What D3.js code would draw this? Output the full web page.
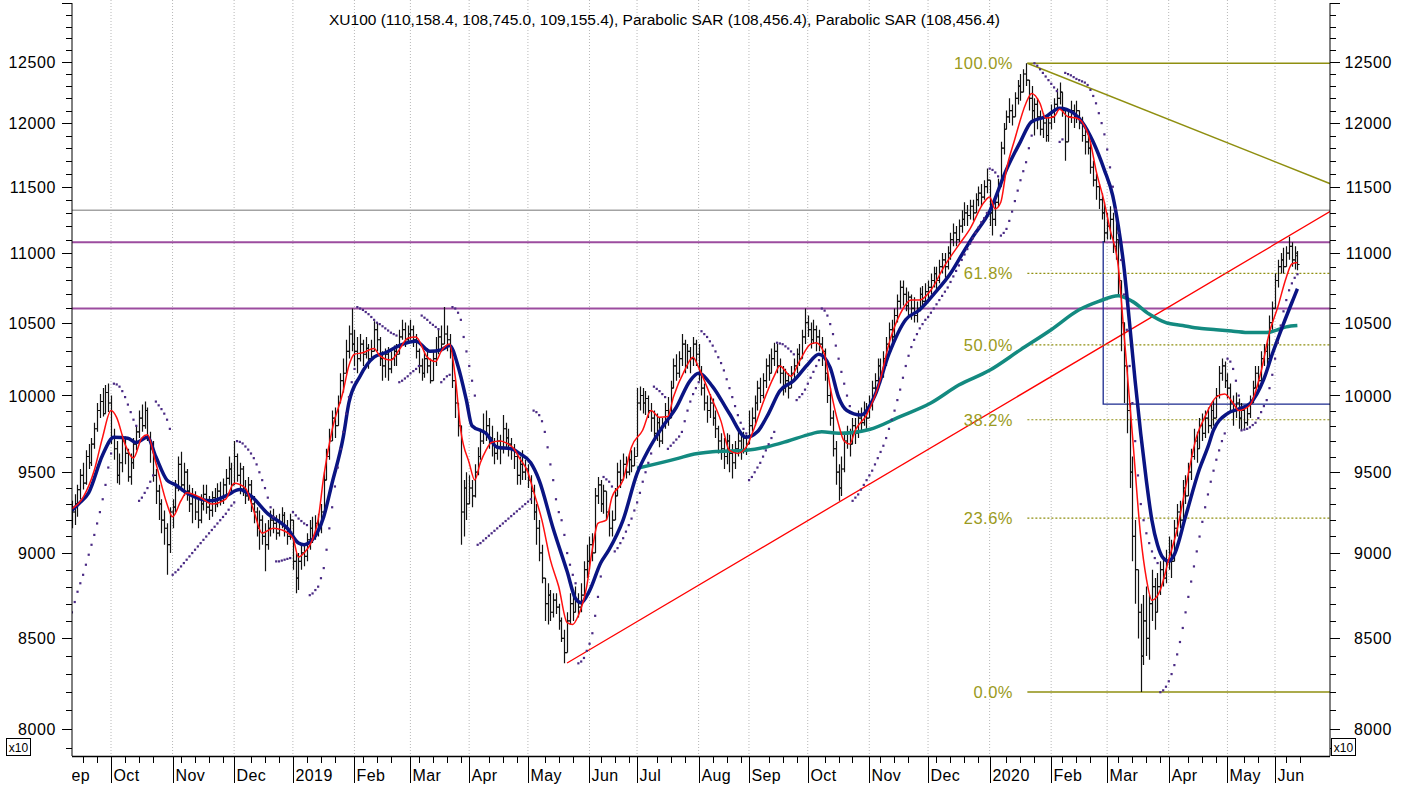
<!DOCTYPE html>
<html>
<head>
<meta charset="utf-8">
<script src="https://cdn.jsdelivr.net/npm/d3@7"></script>
<style>
  body { margin: 0; background: #fff; }
  svg { display: block; font-family: "Liberation Sans", Arial, sans-serif; }
</style>
</head>
<body>
<div id="chart"></div>
<script>
/* CONSTANTS AND GLOBALS */
const width = 1408,
  height = 787,
  plot = { left: 72, right: 1330, top: 0, bottom: 756 };

// bar index = trading days counted from 1 Oct 2018, first bar sits at -14
const firstIndex = -14;

// x axis: month labels and the trading-day index where each month starts
const monthLabels = ["Sep", "Oct", "Nov", "Dec", "2019", "Feb", "Mar", "Apr", "May", "Jun", "Jul", "Aug", "Sep", "Oct", "Nov", "Dec", "2020", "Feb", "Mar", "Apr", "May", "Jun"];
const monthStarts = [-19, 0, 22, 44, 65, 87, 107, 128, 149, 171, 188, 210, 228, 249, 271, 292, 314, 336, 356, 378, 399, 416];

// y axis labels (values shown x10)
const yLabels = [8000, 8500, 9000, 9500, 10000, 10500, 11000, 11500, 12000, 12500];

// XU100 daily bars, one row per month
const opens = [
  9230,9250,9300,9390,9480,9430,9600,9560,9680,9780,9900,9960,9880,10020,
  9950,9720,9650,9480,9560,9700,9620,9470,9560,9680,9760,9850,9800,9900,9720,9650,9480,9380,9300,9200,9150,9050,
  9250,9280,9400,9550,9420,9500,9380,9300,9350,9250,9200,9300,9360,9280,9260,9340,9300,9380,9320,9420,9460,9520,
  9420,9600,9480,9520,9400,9350,9420,9300,9250,9150,9200,9100,9050,9150,9200,9180,9120,9180,9230,9150,9100,
  9200,8950,8850,8950,9000,8980,9080,9150,9100,9180,9160,9250,9450,9600,9700,9850,9800,9950,10100,10150,10300,10420,
  10350,10300,10250,10350,10280,10320,10250,10300,10450,10380,10250,10200,10280,10180,10250,10300,10280,10400,10450,10380,
  10420,10450,10380,10300,10200,10150,10250,10200,10100,10250,10300,10400,10350,10420,10380,10300,10100,9950,9800,9250,9400,
  9300,9400,9350,9500,9600,9700,9750,9800,9720,9680,9620,9700,9650,9780,9720,9680,9640,9600,9480,9550,9500,
  9520,9450,9380,9250,9150,9000,8850,8700,8750,8650,8720,8680,8600,8500,8420,8600,8700,8650,8720,8680,8750,8900,
  8950,9050,9000,9350,9420,9300,9380,9250,9150,9200,9350,9500,9450,9550,9500,9580,9540,
  9600,9950,10000,9950,9980,9900,9850,9750,9820,9700,9800,9900,9850,10050,10200,10150,10250,10350,10200,10300,10250,10350,
  10280,10150,10050,9950,9900,9950,9850,9780,9700,9650,9600,9700,9620,9560,9650,9700,9640,9720,
  9680,9800,9850,9950,10050,10000,10100,10200,10150,10250,10300,10200,10150,10050,10100,10050,10150,10200,10280,10250,10400,
  10500,10450,10380,10450,10400,10350,10300,10150,10000,9850,9650,9500,9400,9520,9700,9750,9680,9800,9750,9850,9820,9900,
  9850,9950,10050,10100,10200,10150,10250,10350,10450,10400,10550,10650,10750,10700,10620,10680,10600,10550,10600,10700,10650,
  10720,10750,10800,10850,10800,10900,10950,10900,11000,11100,11150,11100,11200,11250,11300,11280,11350,11300,11400,11450,11420,11500,
  11550,11300,11250,11380,11500,11800,11950,12050,12100,12050,12200,12300,12250,12400,12350,12200,12100,12150,12050,11950,12000,11900,
  12000,12050,12150,12200,12250,12100,11850,12050,12100,12050,12100,12000,11900,11850,11800,11650,11550,11500,11400,11300,
  11150,11200,11250,11050,11100,10800,10500,10200,9900,9500,9100,8900,8650,8400,8600,8500,8700,8800,8650,8800,8900,8850,
  8950,9000,8950,9150,9250,9200,9400,9350,9500,9600,9700,9650,9800,9750,9850,9800,9900,9850,10000,10150,10200,
  10100,10050,9950,9900,9950,9850,9900,9820,9880,9950,10050,10150,10100,10250,10300,10250,10500,
  10600,10800,10900,10950,10900,11000,11050,10950,10980
];
const highs = [
  9320,9360,9420,9520,9560,9640,9680,9720,9820,9950,10010,10050,10070,10080,
  10000,9780,9700,9620,9740,9730,9650,9620,9720,9800,9900,9940,9960,9920,9760,9700,9520,9420,9330,9260,9180,9280,
  9330,9450,9600,9630,9560,9520,9420,9400,9380,9330,9360,9420,9420,9350,9380,9400,9430,9440,9460,9520,9600,9560,
  9700,9620,9560,9540,9450,9470,9450,9350,9280,9260,9230,9180,9200,9260,9270,9230,9240,9280,9250,9200,9240,
  9200,9000,9000,9050,9060,9120,9200,9220,9230,9240,9300,9500,9650,9780,9900,9920,10000,10150,10250,10380,10480,10600,
  10450,10400,10420,10380,10400,10350,10380,10510,10500,10400,10300,10320,10330,10300,10340,10350,10450,10520,10500,10480,
  10520,10480,10420,10320,10250,10300,10320,10250,10300,10400,10450,10480,10610,10480,10420,10300,10100,9950,9800,9450,9500,
  9480,9450,9550,9660,9780,9880,9900,9850,9800,9720,9760,9740,9870,9820,9780,9720,9680,9620,9600,9640,9580,
  9550,9480,9420,9300,9200,9050,8850,8820,8780,8760,8760,8700,8620,8550,8650,8760,8780,8800,8760,8820,8950,9050,
  9100,9120,9400,9470,9450,9420,9380,9280,9260,9400,9560,9580,9620,9600,9620,9640,9660,
  10050,10060,10050,10030,10000,9950,9900,9880,9850,9850,9950,9990,10100,10250,10280,10300,10420,10380,10350,10330,10400,10380,
  10350,10200,10080,10000,10010,9980,9900,9800,9750,9720,9750,9740,9680,9700,9760,9750,9760,9740,
  9900,9920,10000,10100,10120,10150,10250,10280,10320,10360,10350,10250,10200,10180,10150,10200,10250,10320,10350,10450,10600,
  10550,10500,10520,10480,10450,10400,10320,10150,10050,9900,9700,9550,9600,9760,9800,9780,9850,9850,9900,9920,9960,9950,
  10000,10100,10150,10250,10250,10300,10400,10500,10520,10600,10700,10800,10800,10750,10720,10700,10680,10650,10750,10760,10780,
  10800,10850,10900,10900,10950,11000,11000,11050,11150,11220,11200,11250,11320,11380,11360,11400,11400,11450,11500,11520,11550,11640,
  11550,11380,11420,11560,11850,12000,12100,12200,12150,12250,12350,12400,12440,12490,12350,12300,12200,12200,12100,12080,12050,12050,
  12150,12200,12280,12330,12250,12100,12100,12180,12150,12180,12100,12050,11950,11900,11850,11700,11600,11520,11450,11380,
  11300,11350,11300,11250,11100,10800,10500,10200,9950,9600,9200,8900,8700,8750,8800,8750,8900,8850,8880,8950,8960,9020,
  9100,9080,9200,9300,9320,9450,9480,9560,9650,9780,9760,9850,9880,9900,9920,9950,9970,10050,10200,10250,10230,
  10150,10080,10000,10020,9980,9950,9930,9940,10000,10100,10200,10200,10300,10350,10380,10550,10650,
  10850,10950,11000,11040,11050,11120,11080,11050,11016
];
const lows = [
  9150,9170,9220,9330,9390,9420,9520,9540,9650,9760,9850,9860,9880,9890,
  9680,9580,9430,9420,9500,9550,9440,9420,9520,9640,9720,9760,9780,9700,9560,9440,9300,9200,9120,9050,8870,9000,
  9150,9250,9380,9380,9350,9320,9250,9180,9200,9150,9180,9260,9240,9200,9220,9250,9280,9290,9300,9360,9420,9380,
  9420,9440,9360,9350,9300,9320,9250,9180,9100,9020,9050,8890,9020,9100,9120,9080,9100,9150,9100,9050,9080,
  8900,8760,8780,8900,8920,8950,9020,9060,9080,9100,9120,9250,9450,9580,9700,9720,9800,9950,10020,10150,10250,10300,
  10200,10150,10230,10200,10250,10180,10240,10300,10300,10200,10100,10120,10100,10150,10200,10200,10280,10380,10330,10350,
  10380,10330,10250,10150,10100,10120,10150,10080,10100,10200,10280,10300,10350,10300,10250,10050,9850,9730,9050,9100,9200,
  9300,9280,9340,9480,9580,9680,9700,9650,9600,9550,9580,9550,9620,9650,9600,9580,9520,9420,9420,9450,9450,
  9400,9300,9200,9050,8950,8820,8600,8580,8600,8620,8640,8550,8480,8360,8420,8580,8600,8650,8620,8650,8750,8850,
  8900,8950,9000,9300,9250,9240,9200,9100,9100,9200,9350,9400,9450,9460,9480,9500,9540,
  9600,9900,9880,9870,9850,9760,9700,9700,9660,9680,9780,9800,9850,10050,10100,10120,10200,10150,10180,10150,10200,10200,
  10100,10000,9900,9820,9850,9800,9720,9620,9580,9520,9550,9500,9460,9520,9600,9580,9620,9610,
  9680,9760,9800,9900,9950,9980,10050,10100,10150,10200,10150,10080,10000,10020,9980,10050,10100,10150,10200,10250,10350,
  10400,10320,10350,10300,10300,10200,10100,9950,9800,9600,9420,9320,9350,9500,9650,9600,9680,9680,9720,9760,9800,9780,
  9850,9900,10000,10050,10080,10120,10200,10300,10350,10400,10500,10600,10620,10580,10550,10520,10500,10500,10580,10600,10620,
  10650,10700,10750,10720,10780,10850,10820,10880,10950,11050,11050,11080,11150,11200,11200,11250,11240,11300,11350,11350,11400,11450,
  11200,11130,11200,11350,11500,11750,11950,12000,11980,12050,12150,12180,12250,12300,12100,12000,11900,11950,11900,11880,11850,11850,
  11950,12000,12100,12150,12050,11700,11850,12000,11960,12000,11950,11850,11750,11750,11600,11500,11400,11330,11250,11080,
  11100,11100,11000,10950,10700,10300,9950,9750,9400,8950,8700,8500,8200,8350,8400,8380,8600,8550,8650,8750,8800,8820,
  8900,8850,8950,9100,9150,9200,9300,9350,9450,9580,9560,9650,9700,9720,9750,9780,9800,9850,9980,10100,10050,
  9980,9900,9800,9850,9780,9770,9780,9800,9850,9950,10050,10050,10100,10200,10200,10250,10450,
  10600,10750,10850,10850,10900,10950,10900,10880,10875
];
const closes = [
  9250,9300,9390,9480,9430,9600,9560,9680,9780,9900,9960,9880,10020,9950,
  9720,9650,9480,9560,9700,9620,9470,9560,9680,9760,9850,9800,9900,9720,9650,9480,9380,9300,9200,9150,9050,9250,
  9280,9400,9550,9420,9500,9380,9300,9350,9250,9200,9300,9360,9280,9260,9340,9300,9380,9320,9420,9460,9520,9420,
  9600,9480,9520,9400,9350,9420,9300,9250,9150,9200,9100,9050,9150,9200,9180,9120,9180,9230,9150,9100,9200,
  8950,8850,8950,9000,8980,9080,9150,9100,9180,9160,9250,9450,9600,9700,9850,9800,9950,10100,10150,10300,10420,10350,
  10300,10250,10350,10280,10320,10250,10300,10450,10380,10250,10200,10280,10180,10250,10300,10280,10400,10450,10380,10420,
  10450,10380,10300,10200,10150,10250,10200,10100,10250,10300,10400,10350,10420,10380,10300,10100,9950,9800,9250,9400,9300,
  9400,9350,9500,9600,9700,9750,9800,9720,9680,9620,9700,9650,9780,9720,9680,9640,9600,9480,9550,9500,9520,
  9450,9380,9250,9150,9000,8850,8700,8750,8650,8720,8680,8600,8500,8420,8600,8700,8650,8720,8680,8750,8900,8950,
  9050,9000,9350,9420,9300,9380,9250,9150,9200,9350,9500,9450,9550,9500,9580,9540,9600,
  9950,10000,9950,9980,9900,9850,9750,9820,9700,9800,9900,9850,10050,10200,10150,10250,10350,10200,10300,10250,10350,10280,
  10150,10050,9950,9900,9950,9850,9780,9700,9650,9600,9700,9620,9560,9650,9700,9640,9720,9680,
  9800,9850,9950,10050,10000,10100,10200,10150,10250,10300,10200,10150,10050,10100,10050,10150,10200,10280,10250,10400,10500,
  10450,10380,10450,10400,10350,10300,10150,10000,9850,9650,9500,9400,9520,9700,9750,9680,9800,9750,9850,9820,9900,9850,
  9950,10050,10100,10200,10150,10250,10350,10450,10400,10550,10650,10750,10700,10620,10680,10600,10550,10600,10700,10650,10720,
  10750,10800,10850,10800,10900,10950,10900,11000,11100,11150,11100,11200,11250,11300,11280,11350,11300,11400,11450,11420,11500,11550,
  11300,11250,11380,11500,11800,11950,12050,12100,12050,12200,12300,12250,12400,12350,12200,12100,12150,12050,11950,12000,11900,12000,
  12050,12150,12200,12250,12100,11850,12050,12100,12050,12100,12000,11900,11850,11800,11650,11550,11500,11400,11300,11150,
  11200,11250,11050,11100,10800,10500,10200,9900,9500,9100,8900,8650,8400,8600,8500,8700,8800,8650,8800,8900,8850,8950,
  9000,8950,9150,9250,9200,9400,9350,9500,9600,9700,9650,9800,9750,9850,9800,9900,9850,10000,10150,10200,10100,
  10050,9950,9900,9950,9850,9900,9820,9880,9950,10050,10150,10100,10250,10300,10250,10500,10600,
  10800,10900,10950,10900,11000,11050,10950,11000,10916
];

// Parabolic SAR, one value per bar (runs split by line)
const sar = [
  8650,8710,8770,8820,8870,8930,8990,9050,9110,9180,9250,9330,9420,9530,9620,
  10080,10075,10060,10030,9990,9940,9890,9840,9800,
  9320,9340,9370,9400,9440,9480,
  9960,9935,9910,9880,9840,9780,
  8870,8885,8900,8920,8940,8960,8980,9000,9020,9040,9060,9080,9100,9120,9140,9160,9180,9200,9220,9240,9265,9290,9310,
  9700,9695,9685,9665,9645,9620,9590,9550,9500,9450,9400,9340,9280,9220,
  8950,8950,8955,8960,8965,8970,
  9250,9230,9210,9195,9180,9170,
  8750,8760,8780,8800,8850,8910,9020,9150,9280,9410,9530,9650,9760,9880,9990,10090,10180,
  10610,10600,10590,10575,10560,10540,10520,10500,10490,10475,10460,10445,10430,10420,10410,
  10090,10100,10115,10130,10150,10165,10180,10200,
  10550,10535,10520,10500,10485,10470,10455,
  10090,10110,10130,10140,
  10610,10600,10570,10520,10400,10300,10200,10100,10000,
  9050,9060,9075,9090,9105,9120,9135,9150,9165,9180,9195,9210,9225,9240,9255,9270,9285,9300,9315,9330,
  9900,9890,9870,9830,9760,9660,9550,9450,9330,9250,9200,9110,9000,8930,8870,8820,
  8360,8370,8390,8430,8470,8530,8630,8740,8860,
  9470,9455,9440,9410,
  9010,9030,9060,9090,9130,9170,9210,9260,9310,9370,9440,9500,9560,9620,
  10060,10045,10030,10010,9990,
  9650,9670,9690,9710,9730,9760,9830,9900,9960,10010,10050,10090,
  10440,10420,10400,10370,10340,10300,10260,10220,10170,10110,10050,9990,9930,9870,9820,9780,9750,
  9450,9470,9500,9530,9560,9600,9640,9680,9720,9760,
  10360,10355,10350,10335,10320,10300,10280,
  9970,9990,10010,10040,10080,10120,10160,10200,10240,
  10600,10585,10550,10490,10420,10340,10250,10160,10080,10000,9930,
  9320,9340,9360,9390,9420,9450,9480,9510,9550,9590,9630,9670,9720,9780,9840,9900,9970,10040,10120,10200,
  10270,10330,10380,10420,10460,10490,10520,10540,10570,10600,10630,10660,10690,10720,10750,10790,10830,10870,10910,10950,
  10990,11030,11070,11110,11150,11190,11230,11260,11300,
  11640,11630,11610,11580,
  11130,11150,11180,11240,11310,11390,11470,11550,11620,11690,11800,11900,
  12490,12470,12440,12410,12380,12350,12320,12290,12260,
  11850,11870,
  12410,12400,12390,12375,12360,12350,12340,12330,12310,12270,12220,12160,12080,12000,11910,11790,11650,11500,11330,11150,
  10950,10700,10450,10200,9950,9700,9480,9300,9200,9120,9060,9010,8970,8940,
  8200,8210,8230,8260,8300,8350,8410,8480,8560,8650,8740,8830,8920,9010,9100,9190,9280,9360,9440,9510,9580,9640,9700,9750,
  10250,10230,10180,10100,10000,
  9770,9775,9780,9790,9805,9820,9850,9890,9930,9970,10050,10140,10250,10360,10480,10580,10660,10730,10780,10820,10846
];

// moving averages: [bar index, value]
const fastMA = [[-14,9270],[-10,9340],[-6,9510],[-3,9725],[0,9900],[2,9855],[5,9680],[8,9590],[11,9720],[13,9740],[16,9560],[20,9300],[22,9220],[25,9320],[27,9370],[32,9340],[36,9300],[41,9330],[44,9430],[48,9400],[51,9260],[54,9120],[58,9150],[61,9140],[65,9090],[67,8975],[69,9000],[72,9080],[74,9200],[76,9470],[79,9770],[83,10030],[85,10200],[87,10280],[90,10290],[94,10320],[96,10270],[100,10240],[103,10310],[106,10390],[109,10400],[113,10260],[116,10230],[118,10300],[121,10350],[123,10130],[125,9770],[128,9560],[130,9450],[132,9560],[134,9640],[136,9690],[139,9700],[141,9690],[144,9650],[146,9590],[149,9500],[151,9380],[154,9200],[157,8960],[160,8800],[163,8590],[165,8580],[167,8630],[170,8800],[172,9020],[174,9180],[177,9200],[179,9340],[183,9450],[186,9660],[190,9770],[193,9900],[196,9855],[199,9860],[201,9990],[205,10170],[208,10260],[210,10190],[214,10010],[218,9830],[221,9640],[224,9620],[227,9660],[230,9790],[233,9950],[237,10130],[239,10200],[243,10130],[246,10230],[250,10350],[252,10360],[255,10280],[257,10060],[260,9810],[262,9700],[264,9680],[266,9770],[270,9870],[275,10110],[278,10350],[282,10560],[286,10660],[289,10660],[293,10730],[298,10910],[303,11060],[307,11180],[312,11380],[314,11420],[316,11330],[318,11380],[320,11630],[323,11870],[327,12160],[329,12240],[332,12160],[334,12040],[337,12050],[339,12110],[342,12050],[345,12040],[347,12010],[350,11850],[352,11630],[355,11380],[357,11180],[360,10900],[362,10430],[365,9750],[368,9100],[370,8850],[372,8720],[375,8780],[378,8960],[381,9140],[384,9400],[388,9730],[391,9860],[395,9990],[398,10010],[401,9950],[403,9900],[407,9935],[411,10160],[414,10430],[417,10610],[420,10820],[422,10920],[424,10930]];
const slowMA = [[-14,9260],[-11,9310],[-8,9370],[-3,9610],[1,9725],[6,9718],[9,9690],[13,9725],[16,9600],[20,9450],[23,9420],[27,9370],[32,9330],[36,9320],[41,9350],[46,9390],[50,9350],[56,9240],[63,9150],[67,9060],[69,9050],[72,9080],[76,9220],[79,9430],[83,9725],[85,9950],[89,10130],[94,10260],[98,10290],[103,10340],[109,10370],[114,10300],[118,10310],[121,10340],[124,10200],[127,9970],[129,9800],[134,9750],[138,9660],[143,9650],[146,9620],[150,9560],[153,9450],[158,9150],[163,8890],[166,8730],[168,8705],[171,8775],[175,8940],[178,9020],[183,9200],[188,9490],[192,9640],[197,9790],[202,9920],[207,10100],[210,10150],[215,10060],[221,9880],[227,9725],[231,9760],[235,9880],[239,10030],[244,10100],[249,10210],[253,10280],[257,10190],[260,9990],[263,9900],[268,9870],[273,10000],[278,10280],[284,10520],[289,10590],[294,10700],[300,10850],[305,11020],[308,11120],[314,11310],[320,11630],[325,11850],[329,12010],[334,12050],[339,12120],[344,12080],[347,12010],[351,11850],[355,11630],[358,11430],[360,11200],[362,10900],[364,10500],[366,10100],[368,9750],[370,9450],[372,9200],[374,9050],[376,8970],[378,8950],[380,8990],[384,9220],[389,9520],[392,9660],[394,9770],[399,9880],[403,9910],[407,9945],[412,10110],[415,10280],[419,10490],[423,10690],[424,10740]];
const longMA = [[188,9525],[203,9590],[207,9610],[215,9630],[227,9640],[234,9660],[242,9700],[249,9740],[254,9760],[260,9750],[271,9775],[282,9860],[293,9950],[303,10070],[314,10170],[325,10310],[336,10450],[346,10590],[353,10650],[360,10690],[365,10650],[371,10560],[377,10500],[383,10480],[389,10460],[395,10450],[401,10440],[407,10430],[413,10430],[417,10450],[420,10470],[424,10480]];

// drawn levels and trendlines
const grayLevel = 11320;
const purpleLevels = [11080, 10600];
const navyLevel = { start: 354.6, top: 11090, value: 9943 };
const redTrend = [[163, 8361], [436, 11314]];
const oliveTrend = [[327.5, 12490], [436, 11520]];
const fibLabels = ["100.0%", "61.8%", "50.0%", "38.2%", "23.6%", "0.0%"];
const fibValues = [12490, 10851, 10345, 9839, 9212, 8200];
const fibStart = 327.5;

const titleText = "XU100 (110,158.4, 108,745.0, 109,155.4), Parabolic SAR (108,456.4), Parabolic SAR (108,456.4)";

/* SCALES */
const xScale = d3.scaleLinear().domain([0, 416]).range([111, 1275]);
const yScale = d3.scaleLog().domain([8000, 12500]).range([729, 62]);

/* SVG */
const svg = d3.select("#chart").append("svg")
  .attr("width", width)
  .attr("height", height);

const defs = svg.append("defs");
defs.append("clipPath").attr("id", "plotClip").append("rect")
  .attr("x", plot.left).attr("y", plot.top)
  .attr("width", plot.right - plot.left).attr("height", plot.bottom - plot.top);
defs.append("clipPath").attr("id", "monthClip").append("rect")
  .attr("x", plot.left).attr("y", plot.bottom)
  .attr("width", plot.right - plot.left).attr("height", 40);

const plotG = svg.append("g").attr("clip-path", "url(#plotClip)");

// month grid
plotG.append("g").selectAll("line").data(monthStarts).join("line")
  .attr("x1", d => xScale(d)).attr("x2", d => xScale(d))
  .attr("y1", plot.top).attr("y2", plot.bottom)
  .attr("stroke", "#b8b8b8").attr("stroke-dasharray", "1,2");

// horizontal levels
const hLine = (value, color, w) => plotG.append("line")
  .attr("x1", plot.left).attr("x2", plot.right)
  .attr("y1", yScale(value)).attr("y2", yScale(value))
  .attr("stroke", color).attr("stroke-width", w);
hLine(grayLevel, "#a3a3a3", 1.5);
purpleLevels.forEach(v => hLine(v, "#9c4c9f", 2));

// navy box line
plotG.append("path")
  .attr("d", `M${xScale(navyLevel.start)},${yScale(navyLevel.top)}V${yScale(navyLevel.value)}H${plot.right}`)
  .attr("fill", "none").attr("stroke", "#1b2a8f").attr("stroke-width", 1.3);

// trendlines
const straight = d3.line().x(d => xScale(d[0])).y(d => yScale(d[1]));
plotG.append("path").attr("d", straight(redTrend))
  .attr("fill", "none").attr("stroke", "#ff0000").attr("stroke-width", 1.3);
plotG.append("path").attr("d", straight(oliveTrend))
  .attr("fill", "none").attr("stroke", "#8f8f10").attr("stroke-width", 1.5);

// fibonacci levels
fibValues.forEach((v, k) => {
  const solid = k === 0 || k === fibValues.length - 1;
  plotG.append("line")
    .attr("x1", xScale(fibStart)).attr("x2", plot.right)
    .attr("y1", yScale(v)).attr("y2", yScale(v))
    .attr("stroke", "#8f8f10")
    .attr("stroke-width", solid ? 1.5 : 1.2)
    .attr("stroke-dasharray", solid ? null : "2,2");
  plotG.append("text")
    .attr("x", 1013).attr("y", yScale(v) + 6)
    .attr("text-anchor", "end")
    .attr("fill", "#9a9a20")
    .attr("font-size", 16.5)
    .attr("letter-spacing", 0.5)
    .text(fibLabels[k]);
});

// OHLC bars
const bars = closes.map((c, k) => ({ i: firstIndex + k, o: opens[k], h: highs[k], l: lows[k], c }));
plotG.append("g").selectAll("path").data(bars).join("path")
  .attr("d", d => {
    const x = Math.round(xScale(d.i)) + 0.5;
    return `M${x},${yScale(d.h)}V${yScale(d.l)}M${x - 2},${yScale(d.o)}H${x}M${x},${yScale(d.c)}H${x + 2}`;
  })
  .attr("fill", "none").attr("stroke", "#111").attr("stroke-width", 1.2);

// moving averages
const smooth = d3.line().x(d => xScale(d[0])).y(d => yScale(d[1])).curve(d3.curveMonotoneX);
plotG.append("path").attr("d", smooth(longMA))
  .attr("fill", "none").attr("stroke", "#138a80").attr("stroke-width", 3.5);
plotG.append("path").attr("d", smooth(slowMA))
  .attr("fill", "none").attr("stroke", "#0a1483").attr("stroke-width", 3.5);
plotG.append("path").attr("d", smooth(fastMA))
  .attr("fill", "none").attr("stroke", "#ff1010").attr("stroke-width", 1.5);

// parabolic SAR dots
plotG.append("g").selectAll("rect").data(sar).join("rect")
  .attr("x", (d, k) => xScale(firstIndex + k) - 1)
  .attr("y", d => yScale(d) - 1)
  .attr("width", 2.2).attr("height", 2.2)
  .attr("fill", "#4a2a84");

/* AXES */
const axisG = svg.append("g").attr("stroke", "#000");
axisG.append("line").attr("x1", plot.left).attr("x2", plot.left).attr("y1", 3).attr("y2", plot.bottom);
axisG.append("line").attr("x1", plot.right).attr("x2", plot.right).attr("y1", 3).attr("y2", plot.bottom);
axisG.append("line").attr("x1", plot.left).attr("x2", plot.right).attr("y1", plot.bottom + 0.5).attr("y2", plot.bottom + 0.5).attr("stroke-width", 1.5);

// y ticks every 100, long ones at the labels
const yMinor = d3.range(7900, 13001, 100);
yMinor.forEach(v => {
  const y = Math.round(yScale(v)) + 0.5;
  const major = v % 500 === 0;
  axisG.append("line").attr("x1", plot.left - (major ? 10 : 6)).attr("x2", plot.left).attr("y1", y).attr("y2", y);
  axisG.append("line").attr("x1", plot.right).attr("x2", plot.right + (major ? 10 : 6)).attr("y1", y).attr("y2", y);
});
svg.append("g").selectAll("text").data(yLabels).join("text")
  .attr("x", 56).attr("y", d => yScale(d) + 6)
  .attr("text-anchor", "end").attr("font-size", 16).attr("letter-spacing", 0.6).text(d => d);
svg.append("g").selectAll("text").data(yLabels).join("text")
  .attr("x", 1392).attr("y", d => yScale(d) + 6)
  .attr("text-anchor", "end").attr("font-size", 16).attr("letter-spacing", 0.6).text(d => d);

// x ticks: weekly small ticks, month separators
const xAxisG = svg.append("g").attr("clip-path", "url(#monthClip)");
d3.range(-15, 430, 5)
  .filter(i => monthStarts.every(m => Math.abs(m - i) > 2))
  .forEach(i => {
    const x = Math.round(xScale(i)) + 0.5;
    xAxisG.append("line").attr("x1", x).attr("x2", x).attr("y1", plot.bottom).attr("y2", plot.bottom + 7).attr("stroke", "#000");
  });
monthStarts.forEach((m, k) => {
  const x = Math.round(xScale(m)) + 0.5;
  xAxisG.append("line").attr("x1", x).attr("x2", x).attr("y1", plot.bottom).attr("y2", plot.bottom + 27).attr("stroke", "#000");
  xAxisG.append("text").attr("x", x + 2).attr("y", 781).attr("font-size", 16).attr("letter-spacing", 0.4).text(monthLabels[k]);
});

// x10 boxes
[6.5, 1331.5].forEach(bx => {
  svg.append("rect").attr("x", bx).attr("y", 738.5).attr("width", 24).attr("height", 17)
    .attr("fill", "#fff").attr("stroke", "#000");
  svg.append("text").attr("x", bx + 12).attr("y", 751.5).attr("text-anchor", "middle")
    .attr("font-size", 12).text("x10");
});

// title
svg.append("text").attr("x", 329).attr("y", 25).attr("font-size", 15.5).text(titleText);
</script>
</body>
</html>
